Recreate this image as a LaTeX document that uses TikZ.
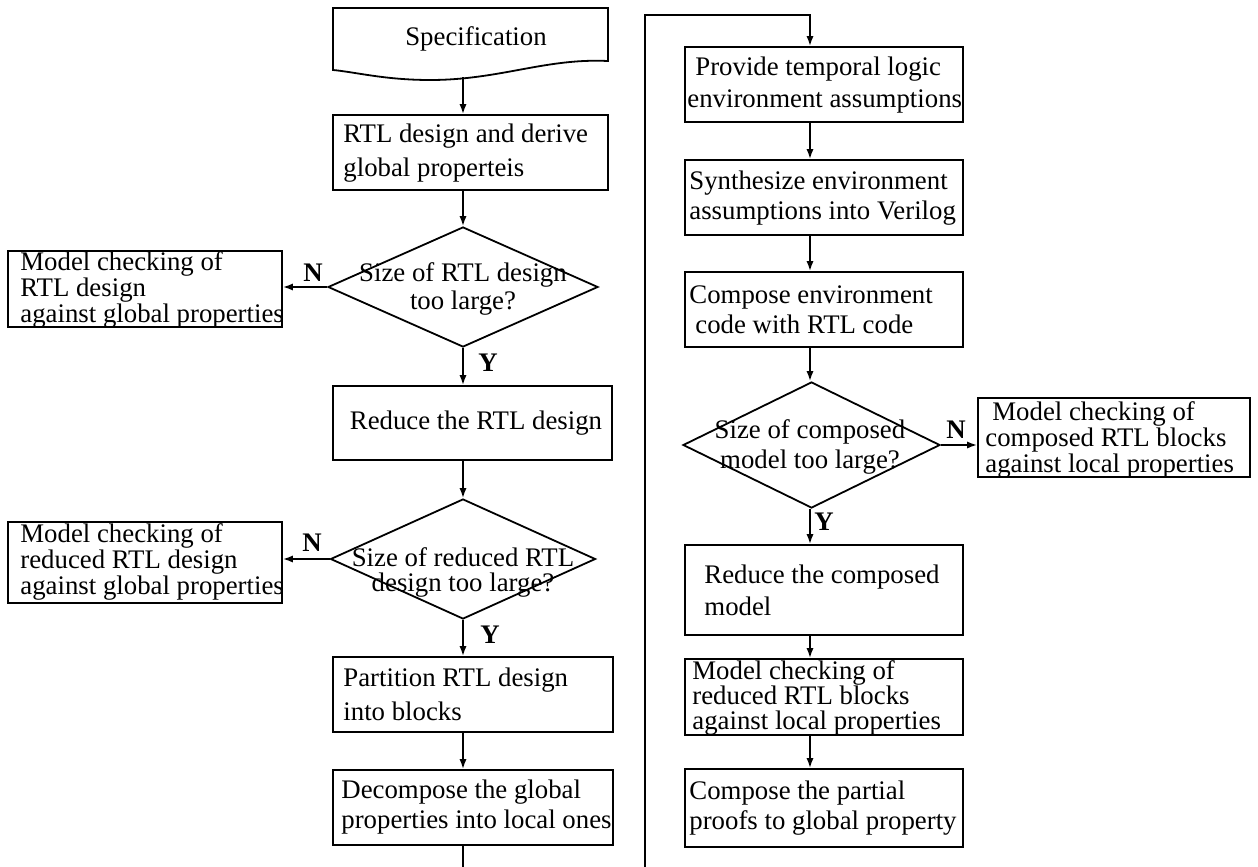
\documentclass[tikz,border=0pt]{standalone}
\usepackage{fontspec}
\setmainfont{Liberation Serif}
\usetikzlibrary{arrows.meta,shapes.geometric}
\begin{document}
\begin{tikzpicture}[x=0.5pt,y=-0.5pt,
  every node/.style={font=\fontsize{13.4}{15}\selectfont},
  box/.style={draw, line width=0.9pt, rectangle, inner sep=0pt},
  txt/.style={anchor=west, inner sep=0pt, align=left},
  bs/.style={font=\fontsize{13.4}{#1}\selectfont},
  dia/.style={draw, diamond, line width=0.9pt, inner sep=0pt},
  dtext/.style={align=center, inner sep=0pt},
  arr/.style={line width=0.9pt, -{Latex[length=5pt,width=3.6pt]}},
  ln/.style={line width=0.9pt},
  yn/.style={inner sep=0pt, font=\fontsize{13.4}{15}\selectfont\bfseries}]
\useasboundingbox (0,0) rectangle (1258,867);

% ---------- left column ----------
\draw[ln] (333,8) -- (608,8) -- (608,61)
  .. controls (545,58) and (500,80) .. (430,80)
  .. controls (385,80) and (355,72) .. (333,70) -- cycle;
\node (spec) at (476,39) {Specification};
\coordinate (specfoot) at (463,77);

\node[box, minimum width=137.5pt, minimum height=37.5pt] (rtl) at (470.5,152.5) {};
\node[txt, bs=17pt] (rtlt) at (343,153) {RTL design and derive\\global properteis};

\node[dia, minimum width=135pt, minimum height=60pt] (d1) at (463,287) {};
\node[dtext, bs=14pt] (d1t) at (463,289) {Size of RTL design\\too large?};

\node[box, minimum width=137pt, minimum height=38pt] (l1) at (145,289) {};
\node[txt, bs=10.2pt] (l1t) at (20,290) {Model checking of\\RTL design\\against global properties};

\node[box, minimum width=139.5pt, minimum height=37pt] (reduce) at (472.5,423) {};
\node[dtext] (reducet) at (476,423) {Reduce the RTL design};

\node[dia, minimum width=132.5pt, minimum height=60pt] (d2) at (463,559) {};
\node[dtext, bs=12.5pt] (d2t) at (463,572) {Size of reduced RTL\\design too large?};

\node[box, minimum width=137pt, minimum height=40.5pt] (l2) at (145,562.5) {};
\node[txt, bs=12pt] (l2t) at (20,562) {Model checking of\\reduced RTL design\\against global properties};

\node[box, minimum width=140pt, minimum height=37.5pt] (part) at (473,694.5) {};
\node[txt, bs=17pt] (partt) at (343,694) {Partition RTL design\\into blocks};

\node[box, minimum width=140pt, minimum height=37.5pt] (dec) at (473,807.5) {};
\node[txt, bs=15pt] (dect) at (341,807) {Decompose the global\\properties into local ones};

\coordinate (endL) at (463,867);

\node[yn] (n1) at (313,273) {N};
\node[yn] (y1) at (488,363) {Y};
\node[yn] (n2) at (312,543) {N};
\node[yn] (y2) at (490,635) {Y};

% ---------- right column ----------
\coordinate (endR) at (645,867);
\coordinate (topL) at (645,15);
\coordinate (topR) at (810,15);

\node[box, minimum width=139pt, minimum height=37.5pt] (prov) at (824,84.5) {};
\node[txt, bs=16pt] (provt) at (687,85) {\hspace*{4pt}Provide temporal logic\\environment assumptions};

\node[box, minimum width=139pt, minimum height=37.5pt] (synth) at (824,197.5) {};
\node[txt, bs=15pt] (syntht) at (689,198) {Synthesize environment\\assumptions into Verilog};

\node[box, minimum width=139pt, minimum height=37.5pt] (comp) at (824,309.5) {};
\node[txt, bs=15pt] (compt) at (689,310) {Compose environment\\\hspace*{3pt}code with RTL code};

\node[dia, minimum width=128.5pt, minimum height=63pt] (d3) at (811.5,445) {};
\node[dtext, bs=15pt] (d3t) at (810,447) {Size of composed\\model too large?};

\node[box, minimum width=136pt, minimum height=39.5pt] (r1) at (1114,437.5) {};
\node[txt, bs=10.5pt] (r1t) at (985,440) {\hspace*{3.5pt}Model checking of\\composed RTL blocks\\against local properties};

\node[yn] (n3) at (956,430) {N};
\node[yn] (y3) at (824,522) {Y};

\node[box, minimum width=139pt, minimum height=45pt] (redc) at (824,590) {};
\node[txt, bs=16pt] (redct) at (704,590) {Reduce the composed\\model};

\node[box, minimum width=139pt, minimum height=38pt] (mcr) at (824,697) {};
\node[txt, bs=12.6pt] (mcrt) at (692,698) {Model checking of\\reduced RTL blocks\\against local properties};

\node[box, minimum width=139pt, minimum height=39pt] (cpp) at (824,808) {};
\node[txt, bs=15pt] (cppt) at (689,808) {Compose the partial\\proofs to global property};

% ---------- connectors ----------
\draw[arr] (specfoot) -- (rtl.north -| specfoot);
\draw[arr] (rtl.south -| d1.north) -- (d1.north);
\draw[arr] (d1.west) -- (d1.west -| l1.east);
\draw[arr] (d1.south) -- (reduce.north -| d1.south);
\draw[arr] (reduce.south -| d2.north) -- (d2.north);
\draw[arr] (d2.west) -- (d2.west -| l2.east);
\draw[arr] (d2.south) -- (part.north -| d2.south);
\draw[arr] (part.south -| d2.south) -- (dec.north -| d2.south);
\draw[ln] (dec.south -| endL) -- (endL);

\draw[arr] (endR) -- (topL) -- (topR) -- (prov.north -| topR);
\draw[arr] (prov.south -| topR) -- (synth.north -| topR);
\draw[arr] (synth.south -| topR) -- (comp.north -| topR);
\draw[arr] (comp.south -| topR) -- (d3.north -| topR);
\draw[arr] (d3.east) -- (d3.east -| r1.west);
\draw[arr] (d3.south -| topR) -- (redc.north -| topR);
\draw[arr] (redc.south -| topR) -- (mcr.north -| topR);
\draw[arr] (mcr.south -| topR) -- (cpp.north -| topR);
\end{tikzpicture}
\end{document}
